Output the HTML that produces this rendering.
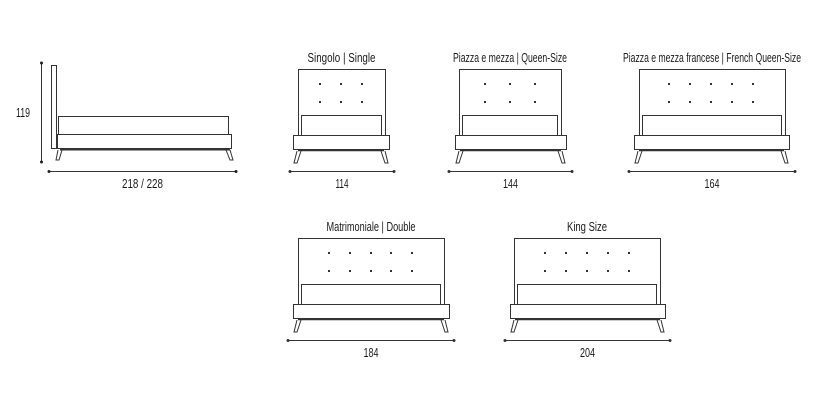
<!DOCTYPE html>
<html><head><meta charset="utf-8"><style>
html,body{margin:0;padding:0;background:#fff;}
svg{display:block;}
text{font-family:"Liberation Sans",sans-serif;font-size:12.5px;fill:#1a1a1a;}
</style></head><body>
<svg width="832" height="402" viewBox="0 0 832 402" xmlns="http://www.w3.org/2000/svg">
<g fill="none" stroke="#333" stroke-width="1">
<rect x="51.5" y="65.5" width="5" height="83"/>
<rect x="58.5" y="116.5" width="170" height="18"/>
<rect x="57.5" y="134.5" width="174" height="14"/>
<line x1="60" y1="149.5" x2="230" y2="149.5" stroke-width="2"/>
<path d="M58 150 L56 160 L59 160 L62 150"/>
<path d="M226 150 L230 160 L233 160 L230 150"/>
<line x1="41.5" y1="63" x2="41.5" y2="162"/>
<line x1="49" y1="171.5" x2="236" y2="171.5"/>
</g>
<g fill="#222">
<circle cx="41.5" cy="63" r="1.5"/><circle cx="41.5" cy="162" r="1.5"/>
<circle cx="49" cy="171.5" r="1.5"/><circle cx="236" cy="171.5" r="1.5"/>
</g>
<text x="16" y="117" textLength="14" lengthAdjust="spacingAndGlyphs">119</text>
<text x="122" y="188" textLength="41" lengthAdjust="spacingAndGlyphs">218 / 228</text>

<g id="beds" fill="none" stroke="#333" stroke-width="1"></g>
<g id="dots" fill="#333"></g>
<g id="dims"></g>
<script>
(function(){
var NS="http://www.w3.org/2000/svg";
var beds=[
 {h0:298,h1:385,b0:293,b1:389,d0:290,d1:394,dx:[320,341,362],y:69,t:"Singolo | Single",tl:68,n:"114",nl:13},
 {h0:459,h1:561,b0:455,b1:566,d0:449,d1:572,dx:[485,510,535],y:69,t:"Piazza e mezza | Queen-Size",tl:114,n:"144",nl:15},
 {h0:639,h1:785,b0:634,b1:789,d0:629,d1:795,dx:[669,690,711,732,753],y:69,t:"Piazza e mezza francese | French Queen-Size",tl:178,n:"164",nl:15},
 {h0:298,h1:444,b0:293,b1:449,d0:288,d1:454,dx:[329,350,371,391,412],y:238,t:"Matrimoniale | Double",tl:89,n:"184",nl:15},
 {h0:514,h1:660,b0:510,b1:665,d0:505,d1:670,dx:[545,566,587,608,629],y:238,t:"King Size",tl:40,n:"204",nl:15}
];
var g=document.getElementById("beds"),dg=document.getElementById("dots"),tg=document.getElementById("dims");
function el(p,n,a,txt){var e=document.createElementNS(NS,n);for(var k in a)e.setAttribute(k,a[k]);if(txt)e.textContent=txt;p.appendChild(e);return e;}
beds.forEach(function(b){
 var y=b.y;
 el(g,"rect",{x:b.h0+.5,y:y+.5,width:b.h1-b.h0,height:66});
 el(g,"rect",{x:b.h0+3.5,y:y+46.5,width:b.h1-b.h0-7,height:20,fill:"#fff"});
 el(g,"rect",{x:b.b0+.5,y:y+66.5,width:b.b1-b.b0,height:14,fill:"#fff"});
 el(g,"line",{x1:b.b0+5,y1:y+81.5,x2:b.b1-5,y2:y+81.5,"stroke-width":1.5});
 el(g,"path",{d:"M"+(b.b0+4)+" "+(y+82)+" L"+(b.b0+1)+" "+(y+94)+" L"+(b.b0+4)+" "+(y+94)+" L"+(b.b0+8)+" "+(y+82)});
 el(g,"path",{d:"M"+(b.b1-4)+" "+(y+82)+" L"+(b.b1-1)+" "+(y+94)+" L"+(b.b1-4)+" "+(y+94)+" L"+(b.b1-8)+" "+(y+82)});
 el(g,"line",{x1:b.d0,y1:y+102.5,x2:b.d1,y2:y+102.5});
 [y+15,y+33].forEach(function(dy){b.dx.forEach(function(dx){el(dg,"rect",{x:dx-1,y:dy-1,width:2,height:2});});});
 el(dg,"circle",{cx:b.d0,cy:y+102.5,r:1.5});el(dg,"circle",{cx:b.d1,cy:y+102.5,r:1.5});
 var cx=(b.h0+b.h1)/2;
 el(tg,"text",{x:cx-b.tl/2,y:y-7,textLength:b.tl,lengthAdjust:"spacingAndGlyphs"},b.t);
 var dc=(b.d0+b.d1)/2;
 el(tg,"text",{x:dc-b.nl/2,y:y+119,textLength:b.nl,lengthAdjust:"spacingAndGlyphs"},b.n);
});
})();
</script>
</svg>
</body></html>
